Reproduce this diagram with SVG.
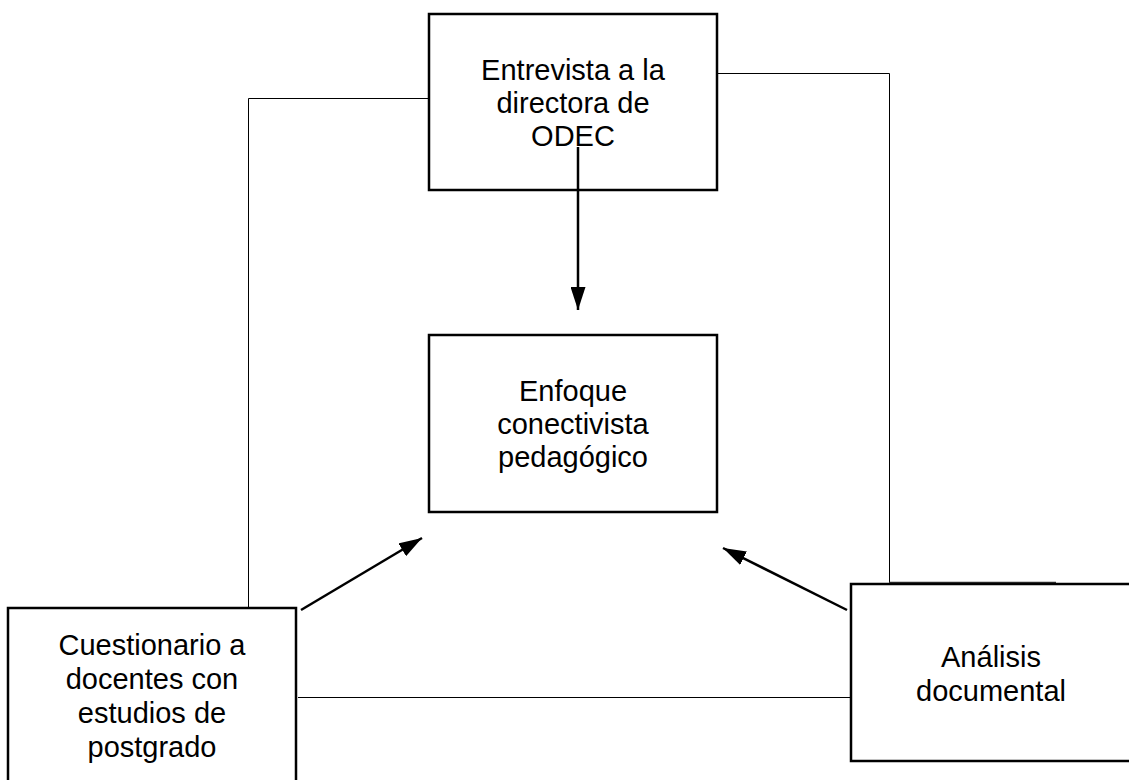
<svg xmlns="http://www.w3.org/2000/svg" width="1129" height="780" viewBox="0 0 1129 780">
<defs>
<style>
.box{fill:#fff;stroke:#000;stroke-width:2.5}
.ln{fill:none;stroke:#000;stroke-width:1}
.ar{fill:none;stroke:#000;stroke-width:2.5}
.t{font-family:"Liberation Sans",Arial,sans-serif;font-size:29px;fill:#000;text-anchor:middle}
</style>
<marker id="a2" viewBox="0 0 23 15" refX="23" refY="7.5" markerWidth="23" markerHeight="15" markerUnits="userSpaceOnUse" orient="auto">
<path d="M0,0 L23,7.5 L0,15 Z" fill="#000"/>
</marker>
</defs>
<rect width="1129" height="780" fill="#fff"/>
<g id="connectors">
<polyline class="ln" points="429,98.5 248.5,98.5 248.5,608"/>
<polyline class="ln" points="717,73.5 889.5,73.5 889.5,584"/>
<line x1="889" y1="582.5" x2="1056" y2="582.5" stroke="#333" stroke-width="1.5"/>
<line class="ln" x1="298" y1="697.5" x2="855" y2="697.5"/>
</g>
<g id="node-entrevista">
<rect class="box" x="429" y="14" width="288" height="176"/>
<text class="t" x="573" y="80">Entrevista a la</text>
<text class="t" x="573" y="113">directora de</text>
<text class="t" x="573" y="146">ODEC</text>
</g>
<g id="node-enfoque">
<rect class="box" x="429" y="335" width="288" height="177"/>
<text class="t" x="573" y="401">Enfoque</text>
<text class="t" x="573" y="434">conectivista</text>
<text class="t" x="573" y="467">pedagógico</text>
</g>
<g id="node-cuestionario">
<rect class="box" x="8" y="608" width="288" height="190"/>
<text class="t" x="152" y="655">Cuestionario a</text>
<text class="t" x="152" y="689">docentes con</text>
<text class="t" x="152" y="723">estudios de</text>
<text class="t" x="152" y="757">postgrado</text>
</g>
<g id="node-analisis">
<rect class="box" x="851" y="584" width="290" height="177"/>
<text class="t" x="991" y="667">Análisis</text>
<text class="t" x="991" y="701">documental</text>
</g>
<g id="arrows">
<line class="ar" x1="578" y1="147" x2="578" y2="310" marker-end="url(#a2)"/>
<line class="ar" x1="301" y1="610" x2="422" y2="538" marker-end="url(#a2)"/>
<line class="ar" x1="847" y1="610" x2="723" y2="548" marker-end="url(#a2)"/>
</g>
</svg>
